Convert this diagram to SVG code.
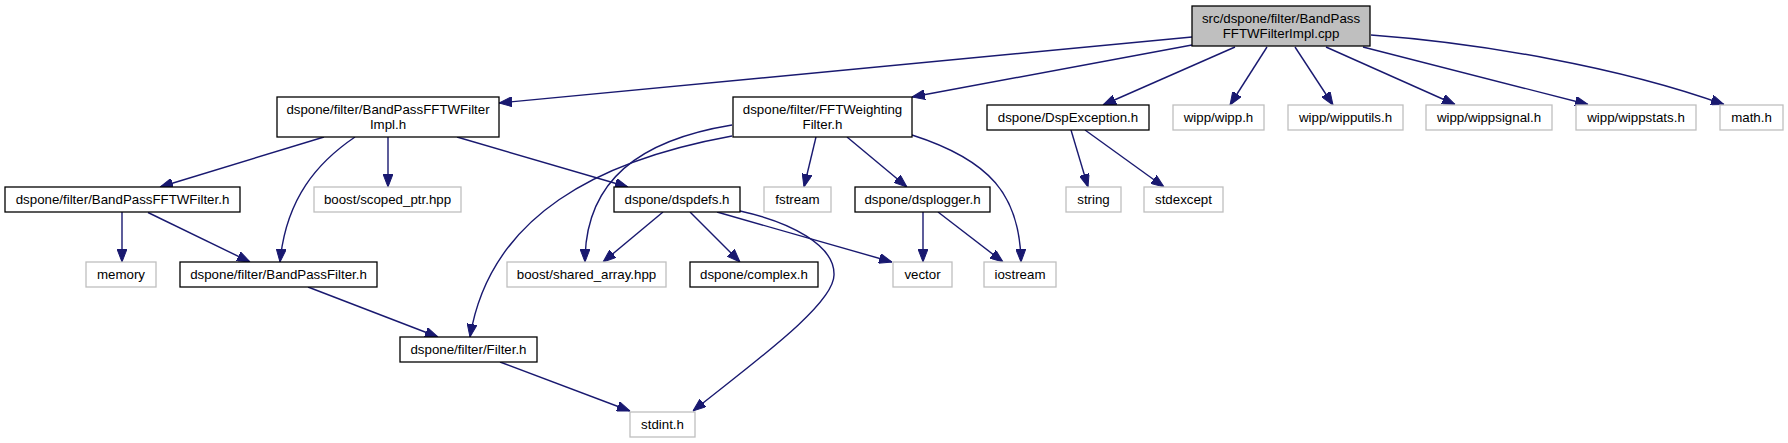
<svg xmlns="http://www.w3.org/2000/svg" width="1788" height="443" viewBox="0 0 1788 443">
<style>
.n rect{fill:#ffffff;stroke:#000000;stroke-width:1.3}
.n.u rect{stroke:#bfbfbf}
.n.root rect{fill:#bfbfbf}
.n text{font-family:"Liberation Sans",Arial,Helvetica,sans-serif;font-size:13.3px;fill:#000000;text-anchor:middle}
#edges path{fill:none;stroke:#191970;stroke-width:1.4;marker-end:url(#ah)}
</style>
<defs>
<marker id="ah" viewBox="0 0 13 10" refX="13" refY="5" markerWidth="13" markerHeight="10" markerUnits="userSpaceOnUse" orient="auto">
<path d="M0,0 L13,5 L0,10 z" fill="#191970" stroke="#191970" stroke-width="1"/>
</marker>
</defs>
<rect x="0" y="0" width="1788" height="443" fill="#ffffff"/>
<g id="edges">
<path d="M1192,37 L499,103"/>
<path d="M1192,45 L912,97"/>
<path d="M1235,47 L1103,105"/>
<path d="M1267,47 L1230,105"/>
<path d="M1295,47 L1333,105"/>
<path d="M1326,47 L1455,104.5"/>
<path d="M1363,47 L1588,104.5"/>
<path d="M1371,35 C1480,43 1620,67 1724,104.5"/>
<path d="M324,137 L160,187"/>
<path d="M388,137 L388,187"/>
<path d="M355,137 C318,162 286,198 280,262"/>
<path d="M457,137 L628,187"/>
<path d="M122,212 L122,262"/>
<path d="M148,212.5 L250,262"/>
<path d="M308,287 L438,337"/>
<path d="M500,362 L630,411"/>
<path d="M732,125 C640,140 585,180 585,262"/>
<path d="M732,136 C600,160 490,215 470,337"/>
<path d="M816,137 L804,187"/>
<path d="M847,137 L907,187"/>
<path d="M912,135 C990,160 1020,195 1021,262"/>
<path d="M663,212 L603,262"/>
<path d="M690,212 L740,262"/>
<path d="M717,212 L892,262"/>
<path d="M740,211 C790,222 835,245 834,275 C834,305 750,365 693,411"/>
<path d="M923,212 L923,262"/>
<path d="M938,212 L1003,262"/>
<path d="M1071,130 L1088,187"/>
<path d="M1085,130 L1164,187"/>
</g>
<g id="node-root" class="n root"><rect x="1192" y="6" width="178" height="40"/><text x="1281" y="22.5">src/dspone/filter/BandPass</text><text x="1281" y="37.5">FFTWFilterImpl.cpp</text></g>
<g id="node-impl" class="n"><rect x="277" y="97" width="222" height="40"/><text x="388" y="113.5">dspone/filter/BandPassFFTWFilter</text><text x="388" y="128.5">Impl.h</text></g>
<g id="node-fftw" class="n"><rect x="733" y="97" width="179" height="40"/><text x="822.5" y="113.5">dspone/filter/FFTWeighting</text><text x="822.5" y="128.5">Filter.h</text></g>
<g id="node-dspexception" class="n"><rect x="987" y="105" width="162" height="25"/><text x="1068" y="121.5">dspone/DspException.h</text></g>
<g id="node-wipp" class="n u"><rect x="1173" y="105" width="91" height="25"/><text x="1218.5" y="121.5">wipp/wipp.h</text></g>
<g id="node-wipputils" class="n u"><rect x="1288" y="105" width="115" height="25"/><text x="1345.5" y="121.5">wipp/wipputils.h</text></g>
<g id="node-wippsignal" class="n u"><rect x="1426" y="105" width="126" height="25"/><text x="1489" y="121.5">wipp/wippsignal.h</text></g>
<g id="node-wippstats" class="n u"><rect x="1576" y="105" width="120" height="25"/><text x="1636" y="121.5">wipp/wippstats.h</text></g>
<g id="node-math" class="n u"><rect x="1720" y="105" width="63" height="25"/><text x="1751.5" y="121.5">math.h</text></g>
<g id="node-bpfftw" class="n"><rect x="5" y="187" width="235" height="25"/><text x="122.5" y="203.5">dspone/filter/BandPassFFTWFilter.h</text></g>
<g id="node-scopedptr" class="n u"><rect x="314" y="187" width="147" height="25"/><text x="387.5" y="203.5">boost/scoped_ptr.hpp</text></g>
<g id="node-dspdefs" class="n"><rect x="614" y="187" width="126" height="25"/><text x="677" y="203.5">dspone/dspdefs.h</text></g>
<g id="node-fstream" class="n u"><rect x="764" y="187" width="67" height="25"/><text x="797.5" y="203.5">fstream</text></g>
<g id="node-dsplogger" class="n"><rect x="855" y="187" width="135" height="25"/><text x="922.5" y="203.5">dspone/dsplogger.h</text></g>
<g id="node-string" class="n u"><rect x="1066" y="187" width="55" height="25"/><text x="1093.5" y="203.5">string</text></g>
<g id="node-stdexcept" class="n u"><rect x="1144" y="187" width="79" height="25"/><text x="1183.5" y="203.5">stdexcept</text></g>
<g id="node-memory" class="n u"><rect x="86" y="262" width="70" height="25"/><text x="121" y="278.5">memory</text></g>
<g id="node-bpfilter" class="n"><rect x="180" y="262" width="197" height="25"/><text x="278.5" y="278.5">dspone/filter/BandPassFilter.h</text></g>
<g id="node-sharedarray" class="n u"><rect x="507" y="262" width="159" height="25"/><text x="586.5" y="278.5">boost/shared_array.hpp</text></g>
<g id="node-complex" class="n"><rect x="690" y="262" width="128" height="25"/><text x="754" y="278.5">dspone/complex.h</text></g>
<g id="node-vector" class="n u"><rect x="893" y="262" width="59" height="25"/><text x="922.5" y="278.5">vector</text></g>
<g id="node-iostream" class="n u"><rect x="984" y="262" width="72" height="25"/><text x="1020" y="278.5">iostream</text></g>
<g id="node-filter" class="n"><rect x="400" y="337" width="137" height="25"/><text x="468.5" y="353.5">dspone/filter/Filter.h</text></g>
<g id="node-stdint" class="n u"><rect x="630" y="412" width="65" height="25"/><text x="662.5" y="428.5">stdint.h</text></g>
</svg>
